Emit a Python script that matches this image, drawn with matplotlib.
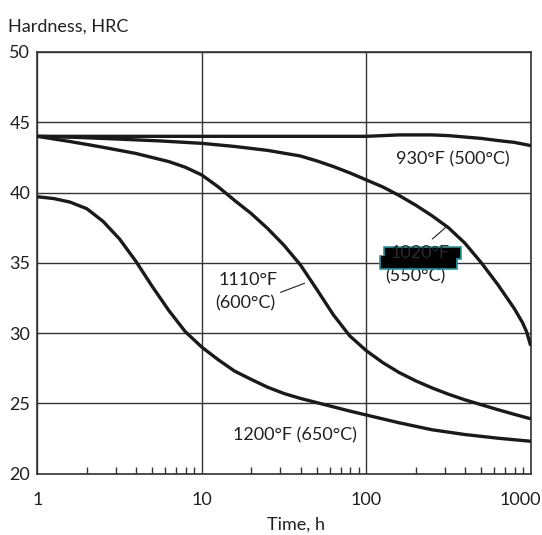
import matplotlib
matplotlib.use("Agg")
import matplotlib.pyplot as plt
import matplotlib.transforms as mtransforms
from matplotlib.patches import Rectangle
from matplotlib.ticker import NullFormatter, LogLocator

plt.rcParams['font.family'] = ['Lato', 'DejaVu Sans']

# ---- data (hardness HRC vs tempering time, h) ----
t_930 = [1, 10, 100, 126, 158, 200, 251, 316, 398, 501, 631, 794, 1000]
h_930 = [44.0, 44.0, 44.0, 44.05, 44.1, 44.1, 44.1, 44.05, 43.95, 43.85, 43.7, 43.57, 43.34]

t_1020 = [1, 1.78, 3.16, 5.62, 10, 15.8, 25.1, 39.8, 50.1, 63.1, 79.4, 100, 126, 158, 200,
          251, 316, 398, 501, 631, 708, 794, 891, 944, 1000]
h_1020 = [44.0, 43.92, 43.8, 43.67, 43.5, 43.28, 43.0, 42.6, 42.25, 41.85, 41.4, 40.9, 40.4,
          39.8, 39.1, 38.35, 37.5, 36.4, 35.0, 33.45, 32.6, 31.75, 30.75, 30.1, 29.1]

t_1110 = [1, 1.58, 2.51, 3.98, 6.31, 7.94, 10, 12.6, 15.8, 20, 25.1, 31.6, 39.8, 50.1, 63.1,
          79.4, 100, 126, 158, 200, 251, 316, 398, 501, 631, 794, 1000]
h_1110 = [44.0, 43.63, 43.22, 42.78, 42.2, 41.8, 41.25, 40.4, 39.45, 38.5, 37.45, 36.25, 34.85,
          33.1, 31.3, 29.8, 28.75, 27.9, 27.2, 26.6, 26.1, 25.65, 25.25, 24.9, 24.55, 24.22, 23.9]

t_1200 = [1, 1.26, 1.58, 2.0, 2.51, 3.16, 3.98, 5.01, 6.31, 7.94, 10, 12.6, 15.8, 20, 25.1,
          31.6, 39.8, 50.1, 63.1, 79.4, 100, 158, 251, 398, 631, 1000]
h_1200 = [39.7, 39.57, 39.32, 38.85, 37.95, 36.7, 35.1, 33.3, 31.6, 30.1, 29.0, 28.1, 27.3, 26.7,
          26.15, 25.7, 25.35, 25.05, 24.75, 24.45, 24.17, 23.62, 23.12, 22.78, 22.52, 22.3]

x_ticks = [1, 10, 100, 1000]
x_ticklabels = ['1', '10', '100', '1000']
y_ticks = [20, 25, 30, 35, 40, 45, 50]

W, H = 542, 535
fig = plt.figure(figsize=(W / 100, H / 100), dpi=100)
ax = fig.add_axes([37.3 / W, 1 - 473.6 / H, (530.7 - 37.3) / W, (473.6 - 52) / H])

TXT = '#231f20'
LINE = '#1a1a1a'
GRID = '#333333'

for t, h in [(t_930, h_930), (t_1020, h_1020), (t_1110, h_1110), (t_1200, h_1200)]:
    ax.plot(t, h, color=LINE, lw=2.4, solid_capstyle='butt', solid_joinstyle='round', zorder=3)

ax.set_xscale('log')
ax.set_xlim(1, 1000)
ax.set_ylim(20, 50)
ax.set_xticks(x_ticks)
ax.set_xticklabels(x_ticklabels)
ax.set_yticks(y_ticks)
ax.xaxis.set_minor_locator(LogLocator(base=10, subs=range(2, 10)))
ax.xaxis.set_minor_formatter(NullFormatter())
ax.tick_params(axis='x', which='major', length=0, pad=13.5, labelsize=13, labelcolor=TXT)
ax.tick_params(axis='x', which='minor', direction='in', length=5, width=1, color=GRID)
ax.tick_params(axis='y', which='major', length=0, pad=5, labelsize=13, labelcolor=TXT)
ax.grid(True, which='major', color=GRID, lw=1.0)
for s in ax.spines.values():
    s.set_color(GRID)
    s.set_linewidth(1.2)

# shift the '1000' tick label left so it stays inside the figure
lbls = ax.get_xticklabels()
off = mtransforms.ScaledTranslation(-10 / 100, 0, fig.dpi_scale_trans)
lbls[-1].set_transform(lbls[-1].get_transform() + off)

# curve labels
fs = 13
ax.text(152, 42.37, '930°F (500°C)', ha='left', va='center', fontsize=fs, color=TXT, zorder=4)
ax.text(15.5, 22.75, '1200°F (650°C)', ha='left', va='center', fontsize=fs, color=TXT, zorder=4)
ax.text(19.1, 33.78, '1110°F', ha='center', va='center', fontsize=fs, color=TXT, zorder=4)
ax.text(18.3, 32.1, '(600°C)', ha='center', va='center', fontsize=fs, color=TXT, zorder=4)
ax.plot([30.2, 42.1], [32.9, 33.54], color=TXT, lw=0.8, zorder=4)
ax.plot([252.7, 305], [36.7, 37.53], color=TXT, lw=0.8, zorder=4)
ax.text(130, 34.06, '(550°C)', ha='left', va='center', fontsize=fs, color=TXT, zorder=4)

# black boxes over the 1020°F label
EDGE = '#1e9aa6'
r1 = (129.1, 35.30, 377.8, 36.11)
r2 = (121.5, 34.56, 355.7, 35.49)
for (x0, y0, x1, y1) in (r1, r2):
    ax.add_patch(Rectangle((x0, y0), x1 - x0, y1 - y0, facecolor='black',
                           edgecolor=EDGE, lw=1.2, zorder=5))
for (x0, y0, x1, y1) in (r1, r2):
    ax.add_patch(Rectangle((x0 * 1.01, y0 + 0.04), x1 * 0.99 - x0 * 1.01, y1 - y0 - 0.08,
                           facecolor='black', edgecolor='none', zorder=6))
ax.text(139.8, 35.72, '1020°F', ha='left', va='center', fontsize=fs, color='#2b2b2b', zorder=7)

fig.text(8 / W, 1 - 32 / H, 'Hardness, HRC', ha='left', va='baseline', fontsize=13, color=TXT)
fig.text(296 / W, 1 - 530 / H, 'Time, h', ha='center', va='baseline', fontsize=13, color=TXT)

fig.savefig('out.png', dpi=100)
